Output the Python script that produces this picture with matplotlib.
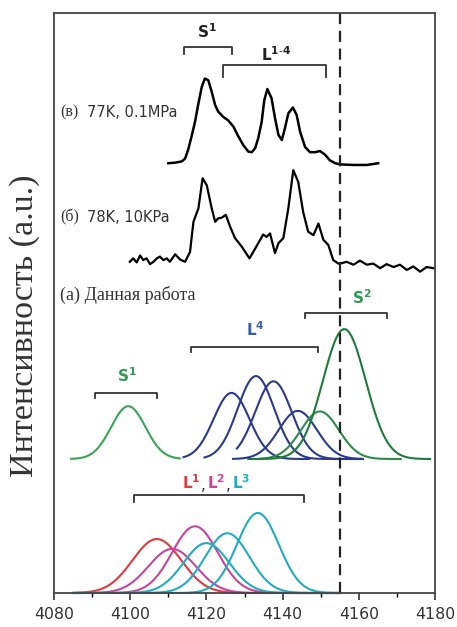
import numpy as np
import matplotlib
matplotlib.use('Agg')
import matplotlib.pyplot as plt

# spectrum (в) 77K, 0.1MPa
x_v = [4110.0, 4111.8, 4113.5, 4114.4, 4115.2, 4116.1, 4117.0, 4117.9, 4118.8, 4119.6,
       4120.5, 4121.4, 4122.3, 4123.1, 4124.4, 4125.7, 4127.1, 4128.4, 4129.7, 4131.0,
       4131.9, 4132.8, 4133.6, 4134.5, 4135.2, 4136.0, 4137.1, 4138.0, 4138.9, 4139.8,
       4140.6, 4141.5, 4142.7, 4143.7, 4144.6, 4145.9, 4147.2, 4148.5, 4149.8, 4151.1,
       4152.4, 4153.8, 4155.1, 4158.6, 4162.1, 4165.1]
y_v = [74.1, 74.2, 74.4, 74.9, 76.4, 78.7, 81.2, 84.4, 87.3, 88.7,
       88.4, 86.4, 84.1, 83.0, 82.1, 81.5, 80.4, 78.7, 77.2, 76.1,
       76.0, 76.7, 78.4, 81.2, 85.0, 86.9, 85.3, 81.9, 79.0, 78.1,
       80.1, 82.7, 83.7, 82.4, 79.5, 76.9, 76.0, 76.0, 76.2, 75.6,
       74.6, 74.1, 73.9, 73.8, 73.8, 74.1]

# spectrum (б) 78K, 10KPa
x_b = [4099.9, 4100.8, 4101.7, 4102.6, 4103.4, 4104.3, 4105.2, 4106.1, 4107.0, 4107.8,
       4108.7, 4109.6, 4110.4, 4111.8, 4113.1, 4114.4, 4115.7, 4116.6, 4117.9, 4119.0,
       4120.1, 4121.4, 4122.3, 4123.1, 4124.0, 4125.1, 4126.2, 4127.5, 4129.3, 4131.3,
       4132.3, 4133.6, 4134.9, 4135.8, 4136.7, 4138.0, 4138.9, 4140.2, 4141.5, 4142.8,
       4144.1, 4145.4, 4146.7, 4148.1, 4149.4, 4150.7, 4152.0, 4153.3, 4154.6, 4155.1,
       4156.8, 4158.6, 4160.3, 4162.1, 4163.8, 4165.6, 4167.3, 4169.1, 4170.8, 4172.6,
       4174.3, 4176.1, 4177.8, 4179.6]
y_b = [57.1, 57.7, 57.0, 58.2, 57.4, 57.7, 56.7, 57.1, 57.7, 58.0,
       57.4, 57.7, 57.1, 58.4, 57.5, 57.1, 58.8, 64.0, 66.3, 71.5,
       70.3, 66.3, 64.0, 64.6, 64.7, 65.2, 63.2, 61.2, 59.7, 57.7,
       58.8, 60.3, 61.8, 61.4, 62.0, 58.6, 60.3, 61.2, 66.3, 72.9,
       70.9, 65.7, 62.3, 61.7, 63.7, 60.9, 60.0, 57.4, 56.8, 56.8,
       57.1, 56.6, 57.3, 56.6, 56.8, 56.0, 56.7, 56.2, 56.6, 55.7,
       56.3, 55.4, 56.2, 56.0]

# (а) fitted components: centre, amplitude, width
base_a = 23.1
up_c = [4099.5, 4126.6, 4133.0, 4137.6, 4144.0, 4149.8, 4156.2]
up_a = [9.1, 11.4, 14.3, 13.4, 8.3, 8.2, 22.4]
up_w = [4.5, 4.7, 4.8, 4.8, 5.0, 5.0, 5.6]
up_lo = [4084.5, 4114.0, 4119.5, 4128.0, 4127.0, 4134.0, 4131.0]
up_hi = [4113.0, 4147.0, 4156.0, 4161.0, 4161.0, 4171.0, 4178.7]
up_col = ['#3aa655', '#2c3a8e', '#2c3a8e', '#2c3a8e', '#2c3a8e', '#2e8b4a', '#1f7a3c']

lo_c = [4107.0, 4111.0, 4117.0, 4120.0, 4125.5, 4133.5]
lo_a = [9.3, 7.6, 11.5, 8.6, 10.3, 13.8]
lo_w = [6.4, 6.2, 6.0, 6.0, 5.8, 5.5]
lo_col = ['#e03a3e', '#c8449c', '#c8449c', '#22acc0', '#22acc0', '#22acc0']

fig = plt.figure(figsize=(4.57, 6.27), dpi=100)
ax = fig.add_axes([54/457, 1-593/627, 381/457, 580/627])

for c, a, w, lo, hi, col in zip(up_c, up_a, up_w, up_lo, up_hi, up_col):
    xx = np.linspace(lo, hi, 200)
    ax.plot(xx, base_a + a*np.exp(-(xx-c)**2/(2*w**2)), color=col, lw=1.5)
for c, a, w, col in zip(lo_c, lo_a, lo_w, lo_col):
    xx = np.linspace(4085, 4155, 300)
    ax.plot(xx, a*np.exp(-(xx-c)**2/(2*w**2)), color=col, lw=1.5, clip_on=False)

ax.plot(x_v, y_v, color='black', lw=1.8, solid_joinstyle='round')
ax.plot(x_b, y_b, color='black', lw=1.6, solid_joinstyle='round')
ax.axvline(4155, color='#222222', lw=1.6, ls=(0, (5, 3)))

def bracket(x0, x1, y, d):
    ax.plot([x0, x0, x1, x1], [y-d, y, y, y-d], color='#333333', lw=1.3)

bracket(4114.1, 4126.7, 94.2, 1.2)
bracket(4124.4, 4151.4, 91.0, 2.0)
bracket(4090.8, 4107.0, 34.5, 0.9)
bracket(4116.0, 4149.2, 42.4, 0.9)
bracket(4146.0, 4167.4, 48.3, 0.9)
bracket(4101.0, 4145.5, 16.9, 1.2)

fs = 11
ax.text(4120.1, 96.7, r'$\mathbf{S^1}$', ha='center', va='center', fontsize=fs, color='#222222')
ax.text(4138.2, 92.9, r'$\mathbf{L^{1\text{-}4}}$', ha='center', va='center', fontsize=fs, color='#222222')
ax.text(4099.2, 37.4, r'$\mathbf{S^1}$', ha='center', va='center', fontsize=fs, color='#2e9b4e')
ax.text(4132.8, 45.4, r'$\mathbf{L^4}$', ha='center', va='center', fontsize=fs, color='#3a5fb0')
ax.text(4160.8, 51.0, r'$\mathbf{S^2}$', ha='center', va='center', fontsize=fs, color='#2e9b4e')
ax.text(4113.7, 19.1, r'$\mathbf{L^1}$', ha='left', va='center', fontsize=fs, color='#e03a3e')
ax.text(4118.6, 18.6, ',', ha='left', va='center', fontsize=fs, color='#333333')
ax.text(4120.1, 19.1, r'$\mathbf{L^2}$', ha='left', va='center', fontsize=fs, color='#c8449c')
ax.text(4125.1, 18.6, ',', ha='left', va='center', fontsize=fs, color='#333333')
ax.text(4126.8, 19.1, r'$\mathbf{L^3}$', ha='left', va='center', fontsize=fs, color='#22acc0')

ax.text(4081.6, 82.8, '(в)', ha='left', va='center', fontsize=11.5, family='Liberation Serif', color='#333333')
ax.text(4088.7, 82.8, '77K, 0.1MPa', ha='left', va='center', fontsize=10.5, color='#333333')
ax.text(4081.6, 64.7, '(б)', ha='left', va='center', fontsize=11.5, family='Liberation Serif', color='#333333')
ax.text(4088.7, 64.7, '78K, 10KPa', ha='left', va='center', fontsize=10.5, color='#333333')
ax.text(4081.6, 51.4, '(а) Данная работа', ha='left', va='center', fontsize=13, family='Liberation Serif', color='#333333')

fig.text(25/457, 0.48, 'Интенсивность (a.u.)', rotation=90, ha='center', va='center',
         fontsize=24.5, family='Liberation Serif', color='#333333')

ax.set_xlim(4080, 4180)
ax.set_ylim(0, 100)
ax.set_xticks(np.arange(4080, 4181, 20))
ax.set_xticks(np.arange(4090, 4180, 20), minor=True)
ax.set_yticks([])
ax.tick_params(axis='x', which='major', direction='out', length=5, width=1.2, labelsize=11.3,
               colors='#333333', pad=5)
ax.tick_params(axis='x', which='minor', direction='out', length=3, width=1.0)
for s in ax.spines.values():
    s.set_color('#444444')
    s.set_linewidth(1.3)

plt.savefig('out.png', dpi=100)
